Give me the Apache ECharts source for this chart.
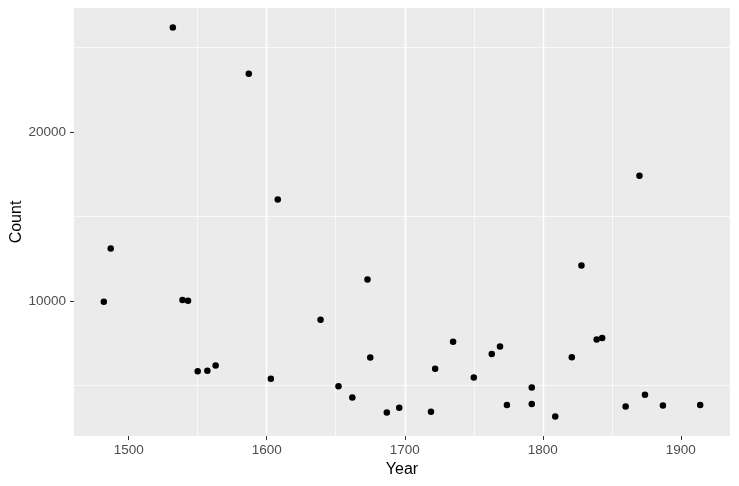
<!DOCTYPE html>
<html>
<head>
<meta charset="utf-8">
<script src="https://cdn.jsdelivr.net/npm/echarts@6/dist/echarts.min.js"></script>
<style>
  html, body { margin: 0; padding: 0; background: #fff; }
  #chart { width: 739px; height: 486px; }
</style>
</head>
<body>
<div id="chart"></div>
<script>
// values
const years = [1482, 1487, 1532, 1539, 1543, 1550, 1557, 1563, 1587, 1603,
  1608, 1639, 1652, 1662, 1673, 1675, 1687, 1696, 1719, 1722,
  1735, 1750, 1763, 1769, 1774, 1792, 1792, 1809, 1821, 1828,
  1839, 1843, 1860, 1870, 1874, 1887, 1914]
const counts = [9940, 13100, 26200, 10040, 10000, 5830, 5850, 6170, 23460, 5380,
  16010, 8870, 4940, 4270, 11260, 6640, 3380, 3660, 3420, 5970,
  7570, 5450, 6840, 7290, 3820, 4860, 3890, 3140, 6660, 12090,
  7710, 7790, 3730, 17410, 4430, 3790, 3820]
const xTicks = [1500, 1600, 1700, 1800, 1900]
const yTicks = [10000, 20000]

const chart = echarts.init(document.getElementById('chart'))

// ggplot-like 5% padding on each side
const expand = v => {
  const pad = (v.max - v.min) * 0.05
  return { lo: v.min - pad, hi: v.max + pad }
}

const axisCommon = {
  type: 'value',
  nameLocation: 'middle',
  nameMoveOverlap: false,
  nameTextStyle: { color: '#000', fontSize: 16, fontFamily: 'Liberation Sans' },
  axisLine: { show: false },
  axisTick: { show: true, length: 4, lineStyle: { color: '#333', width: 1 } },
  axisLabel: { color: '#4d4d4d', fontSize: 13.5, fontFamily: 'Liberation Sans', formatter: v => String(v) },
  splitLine: { show: true, showMinLine: false, showMaxLine: false, lineStyle: { color: '#fff', width: 1.4 } },
  minorTick: { show: false, splitNumber: 2 },
  minorSplitLine: { show: true, lineStyle: { color: '#fff', width: 0.7 } }
}

chart.setOption({
  animation: false,
  grid: {
    left: 74, right: 9, top: 8, bottom: 50,
    containLabel: false, outerBoundsMode: 'none',
    show: true, backgroundColor: '#ebebeb', borderWidth: 0
  },
  xAxis: Object.assign({}, axisCommon, {
    name: 'Year',
    nameGap: 26,
    splitNumber: 5,
    min: v => expand(v).lo,
    max: v => expand(v).hi,
    axisTick: Object.assign({}, axisCommon.axisTick, { customValues: xTicks }),
    axisLabel: Object.assign({}, axisCommon.axisLabel, { margin: 7, customValues: xTicks })
  }),
  yAxis: Object.assign({}, axisCommon, {
    name: 'Count',
    nameGap: 49,
    splitNumber: 3,
    min: v => expand(v).lo,
    max: v => expand(v).hi,
    axisTick: Object.assign({}, axisCommon.axisTick, { customValues: yTicks }),
    axisLabel: Object.assign({}, axisCommon.axisLabel, { margin: 8, customValues: yTicks })
  }),
  series: [{
    type: 'scatter',
    symbolSize: 6.5,
    itemStyle: { color: '#000', opacity: 1 },
    data: years.map((y, i) => [y, counts[i]])
  }]
})
</script>
</body>
</html>
